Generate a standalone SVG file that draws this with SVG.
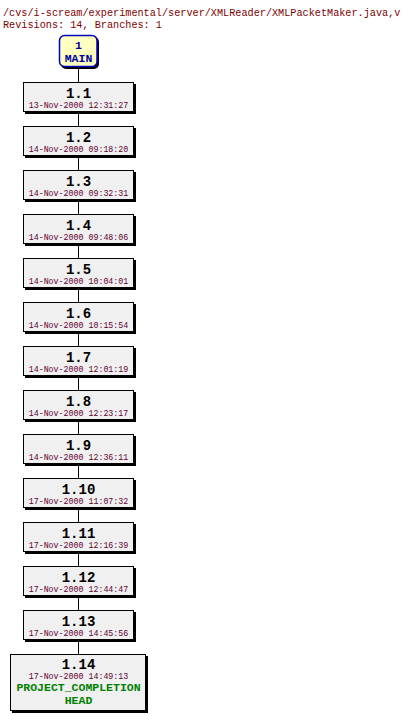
<svg xmlns="http://www.w3.org/2000/svg" width="410" height="721" viewBox="0 0 410 721">
<style>
.hdr{font-family:"Liberation Mono",monospace;font-size:10.2px;fill:#800000}
.box{fill:#f0f0f0;stroke:#000;stroke-width:1}
.sh{fill:#000}
.rev{font-family:"Liberation Mono",monospace;font-size:14px;font-weight:bold;fill:#000;text-anchor:middle}
.date{font-family:"Liberation Mono",monospace;font-size:8.3px;fill:#600030;text-anchor:middle}
.tag{font-family:"Liberation Mono",monospace;font-size:11.5px;font-weight:bold;fill:#008000;text-anchor:middle}
.br{font-family:"Liberation Mono",monospace;font-size:11.5px;font-weight:bold;fill:#0000a0;text-anchor:middle}
.ln{stroke:#000;stroke-width:1}
</style>
<rect width="410" height="721" fill="#fff"/>
<text class="hdr" x="3" y="16">/cvs/i-scream/experimental/server/XMLReader/XMLPacketMaker.java,v</text>
<text class="hdr" x="3" y="28">Revisions: 14, Branches: 1</text>
<g id="connectors">
<line class="ln" x1="78.5" y1="67" x2="78.5" y2="82"/>
<line class="ln" x1="78.5" y1="112" x2="78.5" y2="654"/>
</g>
<g id="main">
<rect x="61" y="37" width="38" height="32" rx="5" fill="#000"/>
<rect x="59.5" y="35.5" width="37.5" height="31" rx="5" fill="#ffffc0" stroke="#0000c0" stroke-width="1.5"/>
<text class="br" x="78.5" y="49">1</text>
<text class="br" x="78.5" y="62">MAIN</text>
</g>
<g id="r1_1"><rect class="sh" x="25" y="84" width="111" height="30"/><rect class="box" x="23.5" y="82.5" width="110" height="29"/><text class="rev" x="78.5" y="97.5">1.1</text><text class="date" x="78.5" y="107.5">13-Nov-2000 12:31:27</text></g>
<g id="r1_2"><rect class="sh" x="25" y="128" width="111" height="30"/><rect class="box" x="23.5" y="126.5" width="110" height="29"/><text class="rev" x="78.5" y="141.5">1.2</text><text class="date" x="78.5" y="151.5">14-Nov-2000 09:18:20</text></g>
<g id="r1_3"><rect class="sh" x="25" y="172" width="111" height="30"/><rect class="box" x="23.5" y="170.5" width="110" height="29"/><text class="rev" x="78.5" y="185.5">1.3</text><text class="date" x="78.5" y="195.5">14-Nov-2000 09:32:31</text></g>
<g id="r1_4"><rect class="sh" x="25" y="216" width="111" height="30"/><rect class="box" x="23.5" y="214.5" width="110" height="29"/><text class="rev" x="78.5" y="229.5">1.4</text><text class="date" x="78.5" y="239.5">14-Nov-2000 09:48:06</text></g>
<g id="r1_5"><rect class="sh" x="25" y="260" width="111" height="30"/><rect class="box" x="23.5" y="258.5" width="110" height="29"/><text class="rev" x="78.5" y="273.5">1.5</text><text class="date" x="78.5" y="283.5">14-Nov-2000 10:04:01</text></g>
<g id="r1_6"><rect class="sh" x="25" y="304" width="111" height="30"/><rect class="box" x="23.5" y="302.5" width="110" height="29"/><text class="rev" x="78.5" y="317.5">1.6</text><text class="date" x="78.5" y="327.5">14-Nov-2000 10:15:54</text></g>
<g id="r1_7"><rect class="sh" x="25" y="348" width="111" height="30"/><rect class="box" x="23.5" y="346.5" width="110" height="29"/><text class="rev" x="78.5" y="361.5">1.7</text><text class="date" x="78.5" y="371.5">14-Nov-2000 12:01:19</text></g>
<g id="r1_8"><rect class="sh" x="25" y="392" width="111" height="30"/><rect class="box" x="23.5" y="390.5" width="110" height="29"/><text class="rev" x="78.5" y="405.5">1.8</text><text class="date" x="78.5" y="415.5">14-Nov-2000 12:23:17</text></g>
<g id="r1_9"><rect class="sh" x="25" y="436" width="111" height="30"/><rect class="box" x="23.5" y="434.5" width="110" height="29"/><text class="rev" x="78.5" y="449.5">1.9</text><text class="date" x="78.5" y="459.5">14-Nov-2000 12:36:11</text></g>
<g id="r1_10"><rect class="sh" x="25" y="480" width="111" height="30"/><rect class="box" x="23.5" y="478.5" width="110" height="29"/><text class="rev" x="78.5" y="493.5">1.10</text><text class="date" x="78.5" y="503.5">17-Nov-2000 11:07:32</text></g>
<g id="r1_11"><rect class="sh" x="25" y="524" width="111" height="30"/><rect class="box" x="23.5" y="522.5" width="110" height="29"/><text class="rev" x="78.5" y="537.5">1.11</text><text class="date" x="78.5" y="547.5">17-Nov-2000 12:16:39</text></g>
<g id="r1_12"><rect class="sh" x="25" y="568" width="111" height="30"/><rect class="box" x="23.5" y="566.5" width="110" height="29"/><text class="rev" x="78.5" y="581.5">1.12</text><text class="date" x="78.5" y="591.5">17-Nov-2000 12:44:47</text></g>
<g id="r1_13"><rect class="sh" x="25" y="612" width="111" height="30"/><rect class="box" x="23.5" y="610.5" width="110" height="29"/><text class="rev" x="78.5" y="625.5">1.13</text><text class="date" x="78.5" y="635.5">17-Nov-2000 14:45:56</text></g>
<g id="r1_14"><rect class="sh" x="12" y="656" width="136" height="57"/><rect class="box" x="10.5" y="654.5" width="135" height="56"/><text class="rev" x="78.5" y="668.5">1.14</text><text class="date" x="78.5" y="678.5">17-Nov-2000 14:49:13</text><text class="tag" x="78.5" y="691">PROJECT_COMPLETION</text><text class="tag" x="78.5" y="704">HEAD</text></g>
</svg>
